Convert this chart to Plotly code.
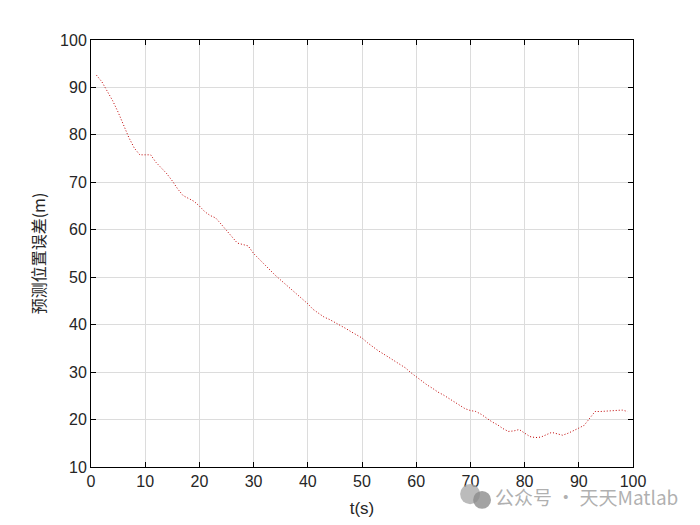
import plotly.graph_objects as go

t = list(range(1, 100))
err = [92.6, 91.2, 89.2, 87.2, 84.8, 82.1, 79.4, 77.2, 75.8, 75.8,
       75.8, 74.2, 73.0, 71.8, 70.3, 68.6, 67.2, 66.6, 66.0, 65.0,
       63.8, 63.0, 62.5, 61.2, 59.9, 58.5, 57.2, 56.9, 56.6, 55.0,
       53.8, 52.7, 51.5, 50.4, 49.4, 48.4, 47.4, 46.5, 45.5, 44.4,
       43.2, 42.4, 41.6, 41.1, 40.5, 39.9, 39.2, 38.5, 37.9, 37.2,
       36.2, 35.3, 34.5, 33.8, 33.1, 32.4, 31.7, 30.9, 29.9, 29.0,
       28.1, 27.3, 26.6, 25.8, 25.2, 24.5, 23.8, 23.0, 22.3, 21.9,
       21.7, 21.1, 20.3, 19.5, 18.9, 18.1, 17.5, 17.6, 17.9, 17.2,
       16.4, 16.2, 16.3, 16.8, 17.3, 17.0, 16.7, 17.1, 17.6, 18.2,
       18.8, 20.3, 21.7, 21.7, 21.8, 21.9, 22.0, 22.0, 21.7]

x_ticks = list(range(0, 101, 10))
y_ticks = list(range(10, 101, 10))

fig = go.Figure()
fig.add_trace(go.Scatter(x=t, y=err, mode="lines",
                         line=dict(color="#c00000", width=1, dash="1px,2px"),
                         showlegend=False))

axis_common = dict(showline=True, linecolor="black", linewidth=1, mirror="ticks",
                   ticks="inside", ticklen=5, tickcolor="black",
                   showgrid=True, gridcolor="#dcdcdc", gridwidth=1,
                   zeroline=False,
                   tickfont=dict(family="Liberation Sans, Arial", size=16, color="#262626"))

fig.update_xaxes(range=[0, 100], tickvals=x_ticks,
                 title=dict(text="t(s)", font=dict(family="Liberation Sans, Arial", size=17, color="#262626"), standoff=12),
                 **axis_common)
fig.update_yaxes(range=[10, 100], tickvals=y_ticks,
                 title=dict(text="预测位置误差(m)", font=dict(family="Noto Sans CJK SC", size=16, color="#262626"), standoff=10),
                 **axis_common)

fig.add_annotation(xref="paper", yref="paper", x=1.087, y=-0.07, xanchor="right", yanchor="middle",
                   text="公众号 · 天天Matlab", showarrow=False,
                   font=dict(family="Noto Sans CJK SC", size=19, color="rgba(150,150,150,0.75)"))
# small wechat-like icon
fig.add_shape(type="circle", xref="paper", yref="paper", x0=0.681, x1=0.718, y0=-0.087, y1=-0.040,
              fillcolor="rgba(170,170,170,0.8)", line=dict(width=0))
fig.add_shape(type="circle", xref="paper", yref="paper", x0=0.705, x1=0.738, y0=-0.098, y1=-0.056,
              fillcolor="rgba(140,140,140,0.8)", line=dict(width=0))

fig.update_layout(width=700, height=525, plot_bgcolor="white", paper_bgcolor="white",
                  margin=dict(l=83, r=75, t=32, b=66))
fig.write_html("out.html")
